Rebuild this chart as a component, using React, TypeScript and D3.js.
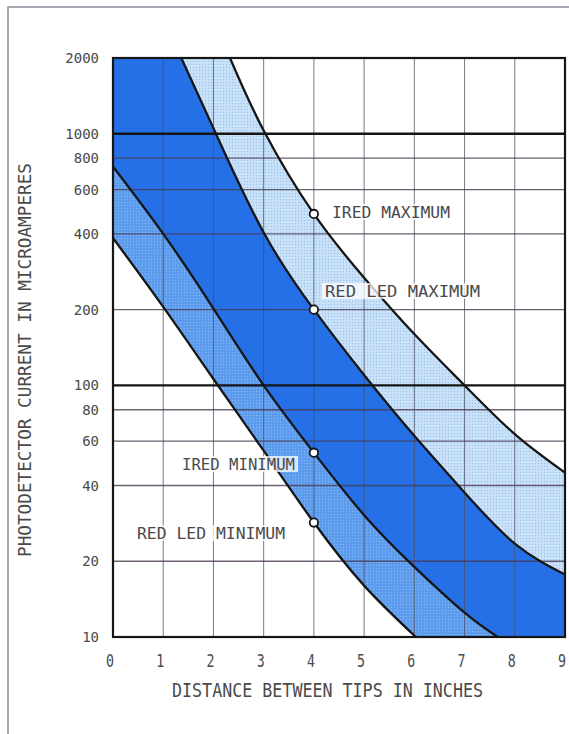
import React from 'react'
import * as d3 from 'd3'

// curves: distance (inches) vs photodetector current (uA)
const iredMaxX = [2.33, 3, 4, 5, 6, 7, 8, 9]
const iredMaxY = [2000, 1030, 480, 268, 160, 100, 64, 45]
const redMaxX = [1.36, 2.05, 3, 4, 5, 6, 7, 8, 9]
const redMaxY = [2000, 1000, 405, 200, 110, 63, 37.5, 23.5, 17.7]
const iredMinX = [0, 1, 2, 3, 4, 5, 6, 7, 7.66]
const iredMinY = [740, 400, 202, 100, 54, 30.5, 19, 12.5, 10]
const redMinX = [0, 1, 2, 3, 4, 5, 6.03]
const redMinY = [385, 205, 106, 55, 28.5, 16, 10]

const xTicks = [0, 1, 2, 3, 4, 5, 6, 7, 8, 9]
const yTicks = [10, 20, 40, 60, 80, 100, 200, 400, 600, 800, 1000, 2000]
const yMajor = [100, 1000]
const markerAt = 4

const W = 569
const H = 734
const left = 113
const right = 565
const top = 58
const bottom = 637

type P = [number, number]
const pts = (xs: number[], ys: number[]): P[] => xs.map((v, i) => [v, ys[i]])

export default function App() {
  const x = d3.scaleLinear().domain([0, 9]).range([left, right])
  const y = d3.scaleLog().domain([10, 2000]).range([bottom, top])

  const line = d3.line<P>()
    .x(d => x(d[0]))
    .y(d => y(d[1]))
    .curve(d3.curveNatural)

  const iredMax = pts(iredMaxX, iredMaxY)
  const redMax = pts(redMaxX, redMaxY)
  const iredMin = pts(iredMinX, iredMinY)
  const redMin = pts(redMinX, redMinY)

  const asL = (p: P[]) => (line(p) || '').replace(/^M/, 'L')
  const rev = (p: P[]) => p.slice().reverse()

  const lightBand = line(iredMax) + asL(rev(redMax)) + 'Z'
  const darkBand = `M${x(0)},${y(2000)}` + asL(redMax) + `L${x(9)},${y(10)}` + asL(rev(iredMin)) + 'Z'
  const midBand = line(iredMin) + asL(rev(redMin)) + 'Z'

  const markerVal = (xs: number[], ys: number[]) => ys[xs.indexOf(markerAt)]
  const markers = [
    markerVal(iredMaxX, iredMaxY),
    markerVal(redMaxX, redMaxY),
    markerVal(iredMinX, iredMinY),
    markerVal(redMinX, redMinY),
  ]

  const labels = [
    { text: 'IRED MAXIMUM', x: 332, y: 212, w: 118 },
    { text: 'RED LED MAXIMUM', x: 325, y: 291, w: 155 },
    { text: 'IRED MINIMUM', x: 182, y: 464, w: 113 },
    { text: 'RED LED MINIMUM', x: 137, y: 533, w: 148 },
  ]

  const font = '"DejaVu Sans Mono", monospace'
  const ink = '#4a4a4a'

  return (
    <svg width={W} height={H} style={{ position: 'absolute', left: 0, top: 0, background: '#fff' }}>
      <defs>
        <clipPath id="plot">
          <rect x={left} y={top} width={right - left} height={bottom - top} />
        </clipPath>
        <pattern id="dotsLight" width="3" height="3" patternUnits="userSpaceOnUse">
          <rect width="3" height="3" fill="#c9e2f8" />
          <circle cx="1.5" cy="1.5" r="0.7" fill="#9ac4ee" />
        </pattern>
        <pattern id="dotsMid" width="3" height="3" patternUnits="userSpaceOnUse">
          <rect width="3" height="3" fill="#5b9bee" />
          <circle cx="1.5" cy="1.5" r="0.7" fill="#86b6f2" />
        </pattern>
      </defs>

      {/* outer frame of the scan */}
      <path d={`M8,${H} V7 H${W}`} fill="none" stroke="#8c8a9c" strokeWidth={1.5} />

      <g clipPath="url(#plot)">
        <path d={lightBand} fill="url(#dotsLight)" />
        <path d={darkBand} fill="#2570e6" />
        <path d={midBand} fill="url(#dotsMid)" />
      </g>

      {xTicks.slice(1, -1).map(t => (
        <line key={'vx' + t} x1={x(t)} x2={x(t)} y1={top} y2={bottom} stroke="#4a4e60" strokeWidth={1} opacity={0.75} />
      ))}
      {yTicks.filter(t => !yMajor.includes(t)).map(t => (
        <line key={'hy' + t} x1={left} x2={right} y1={y(t)} y2={y(t)} stroke="#4a3a50" strokeWidth={1.3} opacity={0.8} />
      ))}
      {yMajor.map(t => (
        <line key={'my' + t} x1={left} x2={right} y1={y(t)} y2={y(t)} stroke="#151515" strokeWidth={2.3} />
      ))}

      <g clipPath="url(#plot)" fill="none" stroke="#161616" strokeWidth={2.3}>
        <path d={line(iredMax) || ''} />
        <path d={line(redMax) || ''} />
        <path d={line(iredMin) || ''} />
        <path d={line(redMin) || ''} />
      </g>

      <rect x={left} y={top} width={right - left} height={bottom - top} fill="none" stroke="#161616" strokeWidth={2.2} />

      {labels.map(l => (
        <g key={l.text}>
          <rect x={l.x - 3} y={l.y - 8} width={l.w + 6} height={16} fill="#fff" opacity={0.75} />
          <text x={l.x} y={l.y + 6} fontFamily={font} fontSize={16} fill={ink}
            textLength={l.w} lengthAdjust="spacingAndGlyphs">{l.text}</text>
        </g>
      ))}

      {markers.map((v, i) => (
        <circle key={'m' + i} cx={x(markerAt)} cy={y(v)} r={4.2} fill="#fff" stroke="#161616" strokeWidth={1.8} />
      ))}

      {yTicks.map(t => (
        <text key={'yl' + t} x={99} y={y(t) + 5} textAnchor="end" fontFamily={font} fontSize={14} fill={ink}>{t}</text>
      ))}
      {xTicks.map(t => (
        <text key={'xl' + t} x={x(t) - 3} y={667} textAnchor="middle" fontFamily={font} fontSize={17} fill={ink}
          textLength={8} lengthAdjust="spacingAndGlyphs">{t}</text>
      ))}

      <text x={172} y={697} fontFamily={font} fontSize={20} fill={ink}
        textLength={311} lengthAdjust="spacingAndGlyphs">DISTANCE BETWEEN TIPS IN INCHES</text>
      <text transform="translate(31,557) rotate(-90)" fontFamily={font} fontSize={18} fill={ink}
        textLength={394} lengthAdjust="spacingAndGlyphs">PHOTODETECTOR CURRENT IN MICROAMPERES</text>
    </svg>
  )
}
